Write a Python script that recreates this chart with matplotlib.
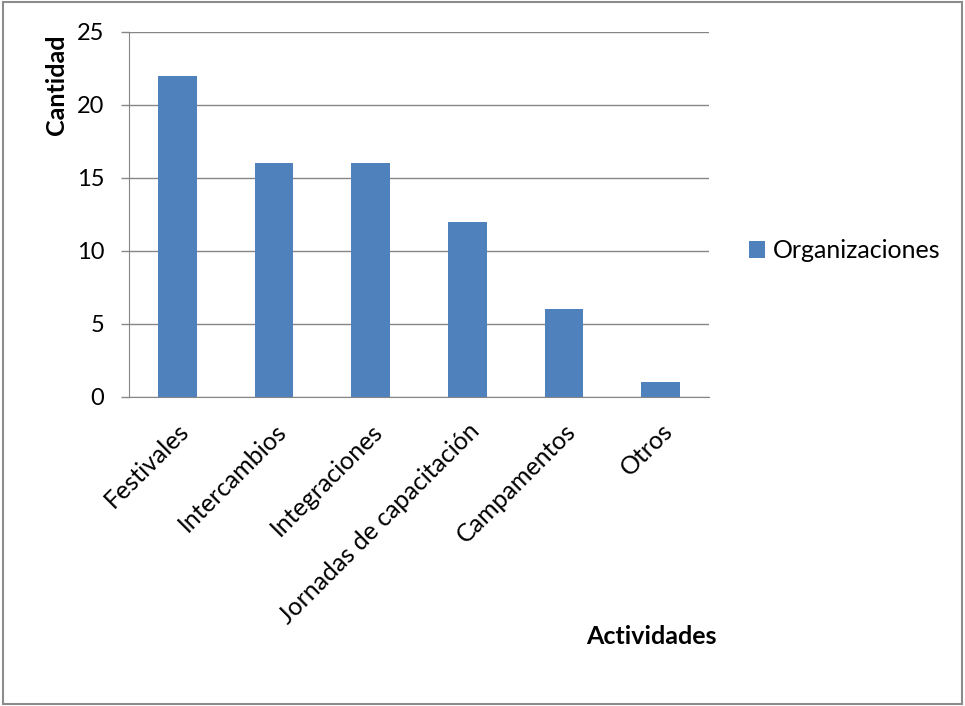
import matplotlib.pyplot as plt
from matplotlib.patches import Rectangle

plt.rcParams['font.family'] = ['Lato', 'DejaVu Sans']

actividades = ['Festivales', 'Intercambios', 'Integraciones',
               'Jornadas de capacitación', 'Campamentos', 'Otros']
organizaciones = [22, 16, 16, 12, 6, 1]
y_ticks = [0, 5, 10, 15, 20, 25]

bar_color = '#4f81bd'
grid_color = '#868686'

fig = plt.figure(figsize=(9.65, 7.06), dpi=100)
ax = fig.add_axes([0.1337, 0.4377, 0.601, 0.517])

x = range(len(actividades))
ax.bar(x, organizaciones, width=0.4, color=bar_color, zorder=3, label='Organizaciones')

ax.set_xlim(-0.5, len(actividades) - 0.5)
ax.set_ylim(0, 25)
ax.set_yticks(y_ticks)
ax.set_yticklabels([str(v) for v in y_ticks], fontsize=17)
ax.set_xticks(list(x))
ax.set_xticklabels(actividades, fontsize=18, rotation=45, ha='right',
                   rotation_mode='anchor')
ax.tick_params(axis='x', length=0, pad=16)
ax.tick_params(axis='y', length=6, width=1, color=grid_color, pad=12)

ax.yaxis.grid(True, color=grid_color, linewidth=1, zorder=0)
for side in ['top', 'right']:
    ax.spines[side].set_visible(False)
ax.spines['left'].set_color(grid_color)
ax.spines['bottom'].set_color(grid_color)

leg = fig.legend(loc='center left', bbox_to_anchor=(0.753, 0.645), frameon=False,
                 fontsize=18, handlelength=0.65, handleheight=0.65, handletextpad=0.3)

fig.text(0.059, 0.88, 'Cantidad', rotation=90, fontsize=18, fontweight='bold',
         ha='center', va='center')
fig.text(0.675, 0.098, 'Actividades', fontsize=18, fontweight='bold',
         ha='center', va='center')

fig.patches.append(Rectangle((0.003, 0.003), 0.994, 0.994, transform=fig.transFigure,
                             fill=False, edgecolor='#8c8c8c', linewidth=1.5))

fig.savefig('out.png', dpi=100)
